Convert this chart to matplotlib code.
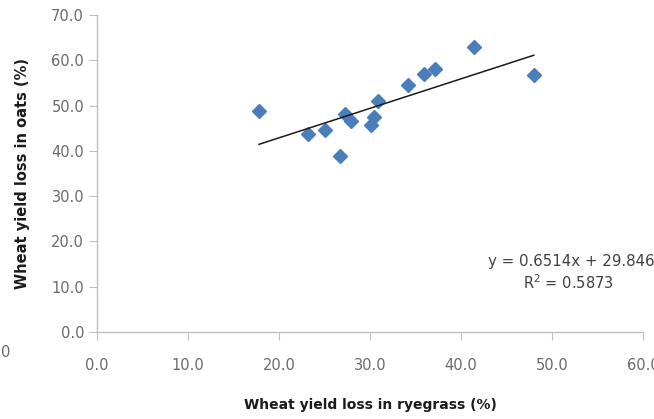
import numpy as np
import matplotlib
matplotlib.use("Agg")
import matplotlib.pyplot as plt

plt.rcParams['font.family'] = ['DejaVu Sans']

# Yield loss pairs (ryegrass vs oats), %
ryegrass_loss = [17.8, 23.2, 25.1, 26.7, 27.3, 27.9, 30.1, 30.4, 30.9,
                 34.2, 35.9, 37.1, 41.4, 48.0]
oats_loss = [48.8, 43.7, 44.5, 38.9, 48.1, 46.7, 45.7, 47.4, 51.1,
             54.5, 56.9, 58.1, 62.9, 56.8]

# linear trend as reported on the chart
slope = 0.6514
intercept = 29.846
r_squared = 0.5873

x_ticks = [0, 10, 20, 30, 40, 50, 60]
y_ticks = [0, 10, 20, 30, 40, 50, 60, 70]

fig = plt.figure(figsize=(6.54, 4.19), dpi=100)
ax = fig.add_axes([97 / 654, 1 - 332 / 419, 546 / 654, 317 / 419])

ax.plot(ryegrass_loss, oats_loss, linestyle='none', marker='D',
        markersize=7.0, color='#4a7ebb', markeredgecolor='#4a7ebb')

x_fit = np.array([min(ryegrass_loss), max(ryegrass_loss)])
ax.plot(x_fit, slope * x_fit + intercept, color='#1a1a1a', linewidth=1.1)

ax.set_xlim(0, 60)
ax.set_ylim(0, 70)
ax.set_xticks(x_ticks)
ax.set_yticks(y_ticks)
ax.set_xticklabels(["%.1f" % v for v in x_ticks])
ax.set_yticklabels(["%.1f" % v for v in y_ticks])

for side in ['top', 'right']:
    ax.spines[side].set_visible(False)
for side in ['left', 'bottom']:
    ax.spines[side].set_color('#c0c0c0')
    ax.spines[side].set_linewidth(1.0)

ax.tick_params(axis='both', direction='out', length=5.5, color='#c0c0c0',
               labelsize=10.5, labelcolor='#6a6a6a')
ax.tick_params(axis='x', pad=13)
ax.tick_params(axis='y', pad=3.8)

ax.set_xlabel("Wheat yield loss in ryegrass (%)", fontsize=10,
              fontweight='bold', color='#1a1a1a', labelpad=18.5)
ax.set_ylabel("Wheat yield loss in oats (%)", fontsize=10.5,
              fontweight='bold', color='#1a1a1a', labelpad=15.5)

fig.text(488 / 654, 1 - 261 / 419,
         "y = %.4fx + %.3f" % (slope, intercept),
         fontsize=10.8, color='#404040', ha='left', va='center')
fig.text(568 / 654, 1 - 283 / 419,
         "R$^{2}$ = %.4f" % r_squared,
         fontsize=10.5, color='#404040', ha='center', va='center')

fig.text(1 / 654, 1 - 352 / 419, "0", fontsize=10.5, color='#6a6a6a',
         ha='left', va='center')

fig.savefig("out.png", dpi=100)
